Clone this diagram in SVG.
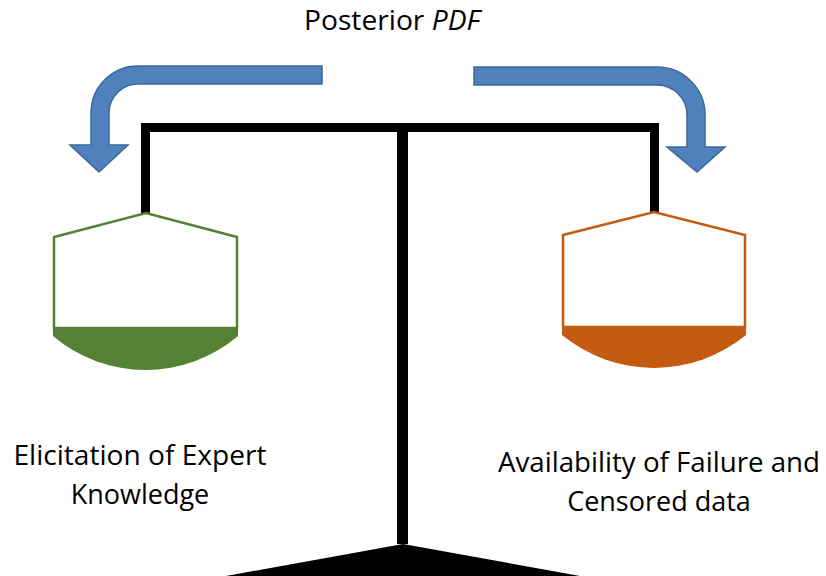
<svg xmlns="http://www.w3.org/2000/svg" width="826" height="576" viewBox="0 0 826 576">
  <style>
    .label { font-family: "Open Sans", "Liberation Sans", sans-serif; font-size: 27px; fill: #000; }
    .bar { fill: #000; }
    .flow { fill: #4F81BD; stroke: #3B689C; stroke-width: 1.5; stroke-linejoin: miter; }
    .pan-green { fill: #fff; stroke: #548235; stroke-width: 2.5; }
    .pan-orange { fill: #fff; stroke: #C55A11; stroke-width: 2.5; }
    .load-green { fill: #548235; }
    .load-orange { fill: #C55A11; }
  </style>

  <rect width="826" height="576" fill="#fff"/>

  <!-- title -->
  <text class="label" x="392" y="30" text-anchor="middle" textLength="176" lengthAdjust="spacingAndGlyphs">Posterior <tspan font-style="italic">PDF</tspan></text>

  <!-- balance frame -->
  <g id="balance">
    <rect class="bar" x="141" y="123" width="518" height="9"/>
    <rect class="bar" x="141" y="123" width="9" height="91"/>
    <rect class="bar" x="650" y="123" width="9" height="90"/>
    <rect class="bar" x="397" y="123" width="11" height="421"/>
    <polygon class="bar" points="226,576 403,544 580,576"/>
  </g>

  <!-- left pan -->
  <g id="pan-expert">
    <polygon class="pan-green" points="54,237 146,213 237,237 237,328 54,328"/>
    <path class="load-green" d="M53,327 L238,327 L238,336 A143,143 0 0 1 53,336 Z"/>
  </g>

  <!-- right pan -->
  <g id="pan-data">
    <polygon class="pan-orange" points="563,235 654,212 745,235 745,327 563,327"/>
    <path class="load-orange" d="M562,326 L746,326 L746,335 A145,145 0 0 1 562,335 Z"/>
  </g>

  <!-- curved flow arrows -->
  <g id="connectors">
    <path class="flow" d="M322,66 L138,66 A47,47 0 0 0 91,113 L91,145 L70,145 L99,172 L128,145 L109,145 L109,113 A29,29 0 0 1 138,84 L322,84 Z"/>
    <path class="flow" d="M474,67 L657,67 A48,48 0 0 1 705,115 L705,147 L725,147 L697,172 L667,147 L687,147 L687,115 A30,30 0 0 0 657,85 L474,85 Z"/>
  </g>

  <!-- captions -->
  <g id="caption-expert">
    <text class="label" x="140" y="465" text-anchor="middle" textLength="253" lengthAdjust="spacingAndGlyphs">Elicitation of Expert</text>
    <text class="label" x="140" y="504" text-anchor="middle">Knowledge</text>
  </g>
  <g id="caption-data">
    <text class="label" x="659" y="472" text-anchor="middle" textLength="322" lengthAdjust="spacingAndGlyphs">Availability of Failure and</text>
    <text class="label" x="659" y="511" text-anchor="middle">Censored data</text>
  </g>
</svg>
